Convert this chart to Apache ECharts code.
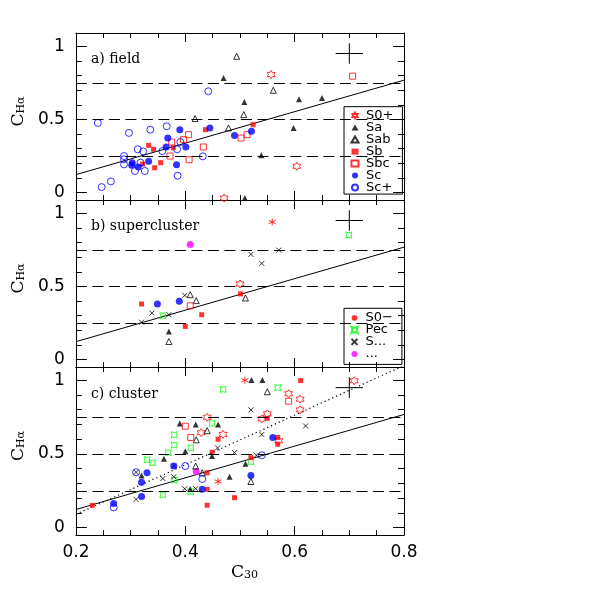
<!DOCTYPE html>
<html><head><meta charset="utf-8">
<script src="https://cdn.jsdelivr.net/npm/echarts@6/dist/echarts.min.js"></script>
<style>html,body{margin:0;padding:0;background:#fff}#c{width:599px;height:599px}</style>
</head><body><div id="c"></div>
<script>
// ---------- data ----------
const xRange = [0.2, 0.8];
const yRange = [-0.05, 1.09];
const yMajor = [0, 0.5, 1];
const yMinor = [0.1, 0.2, 0.3, 0.4, 0.6, 0.7, 0.8, 0.9];
const refLevels = [0.25, 0.5, 0.75];
const fitLine = [[0.2, 0.123], [0.8, 0.768]];
const clusterFit = [[0.2, 0.09], [0.8, 1.10]];
const errCross = [[0.70, 0.95, 0.025, 0.07]];
const panelLabels = ['a) field', 'b) supercluster', 'c) cluster'];
const legendA = ['S0+', 'Sa', 'Sab', 'Sb', 'Sbc', 'Sc', 'Sc+'];
const legendB = ['S0\u2212', 'Pec', 'S...', '...'];

// panel a: field
const fieldS0p = [[0.557,0.806],[0.604,0.180],[0.471,-0.037]];
const fieldSa = [[0.470,0.783],[0.508,0.619],[0.608,0.638],[0.650,0.646],[0.598,0.442],[0.539,0.255],[0.509,-0.037]];
const fieldSab = [[0.494,0.931],[0.561,0.699],[0.507,0.533],[0.418,0.506],[0.479,0.442]];
const fieldSb = [[0.333,0.323],[0.342,0.296],[0.344,0.170],[0.355,0.205],[0.378,0.307],[0.437,0.430],[0.524,0.464],[0.322,0.195]];
const fieldSbc = [[0.706,0.795],[0.406,0.396],[0.397,0.362],[0.375,0.346],[0.372,0.250],[0.407,0.225],[0.433,0.312],[0.502,0.373],[0.513,0.396]];
const fieldSc = [[0.390,0.430],[0.445,0.442],[0.368,0.373],[0.365,0.312],[0.401,0.312],[0.490,0.391],[0.521,0.419],[0.384,0.191],[0.333,0.214],[0.314,0.175],[0.303,0.205],[0.302,0.187]];
const fieldScp = [[0.240,0.476],[0.442,0.692],[0.297,0.408],[0.336,0.430],[0.366,0.453],[0.313,0.296],[0.323,0.282],[0.288,0.250],[0.288,0.228],[0.288,0.193],[0.308,0.148],[0.318,0.205],[0.326,0.148],[0.358,0.284],[0.385,0.296],[0.391,0.346],[0.432,0.248],[0.386,0.116],[0.264,0.077],[0.247,0.038]];

// panel b: supercluster
const supS0m = [[0.559,0.940]];
const supS0p = [[0.500,0.517]];
const supPec = [[0.699,0.851],[0.359,0.300]];
const supSx = [[0.571,0.748],[0.520,0.719],[0.540,0.657],[0.399,0.439],[0.339,0.318],[0.370,0.307],[0.320,0.256]];
const supDots = [[0.409,0.787]];
const supSa = [[0.370,0.192]];
const supSab = [[0.409,0.444],[0.420,0.403],[0.510,0.421],[0.370,0.124]];
const supSb = [[0.320,0.380],[0.501,0.449],[0.430,0.307],[0.400,0.227]];
const supSbc = [[0.409,0.368]];
const supSc = [[0.349,0.380],[0.389,0.398]];

// panel c: cluster
const cluS0p = [[0.440,0.749],[0.429,0.644],[0.469,0.633],[0.540,0.738],[0.550,0.772],[0.589,0.909],[0.610,0.872],[0.610,0.799],[0.571,0.589],[0.709,0.997]];
const cluS0m = [[0.509,1.000],[0.460,0.313]];
const cluSa = [[0.521,1.002],[0.541,1.002],[0.390,0.706],[0.419,0.699],[0.460,0.699],[0.400,0.518],[0.361,0.468],[0.320,0.354],[0.449,0.486],[0.481,0.345],[0.510,0.434],[0.409,0.262]];
const cluSab = [[0.550,0.922],[0.440,0.658],[0.420,0.596],[0.419,0.418],[0.431,0.372],[0.520,0.313]];
const cluSb = [[0.611,0.998],[0.550,0.742],[0.569,0.612],[0.569,0.566],[0.520,0.475],[0.460,0.600],[0.449,0.512],[0.440,0.372],[0.440,0.260],[0.440,0.152],[0.490,0.203],[0.230,0.151]];
const cluSbc = [[0.400,0.688],[0.410,0.612],[0.589,0.858]];
const cluSc = [[0.320,0.308],[0.330,0.372],[0.320,0.212],[0.269,0.163],[0.379,0.418],[0.431,0.261],[0.520,0.354],[0.560,0.612]];
const cluScp = [[0.269,0.137],[0.310,0.376],[0.400,0.418],[0.431,0.330],[0.540,0.491]];
const cluPec = [[0.469,0.938],[0.569,0.950],[0.449,0.708],[0.380,0.630],[0.380,0.560],[0.369,0.509],[0.410,0.541],[0.330,0.461],[0.340,0.440],[0.380,0.323],[0.359,0.223],[0.410,0.244],[0.520,0.447]];
const cluSx = [[0.520,0.799],[0.540,0.632],[0.620,0.690],[0.459,0.541],[0.490,0.509],[0.530,0.491],[0.379,0.418],[0.359,0.333],[0.379,0.345],[0.310,0.376],[0.310,0.192],[0.399,0.264],[0.419,0.264]];
const cluDots = [[0.420,0.381]];

// ---------- styles ----------
const RED = '#ff0000', BLUE = '#0000ff', GREEN = '#00ff00', MAG = '#ff00ff', BLK = '#000000';
const HEX = 'path://M10,0L12.887,5L18.66,5L15.774,10L18.66,15L12.887,15L10,20L7.113,15L1.34,15L4.226,10L1.34,5L7.113,5Z';
const PEC = 'path://M0,0Q10,5 20,0Q15,10 20,20Q10,15 0,20Q5,10 0,0Z';
const AST = 'path://M10,0L10,20M1.34,5L18.66,15M1.34,15L18.66,5';
const XS = 'path://M0,0L20,20M20,0L0,20';
function hollow(c){ return {color:'rgba(0,0,0,0)', borderColor:c, borderWidth:1}; }
function solid(c){ return {color:c, borderWidth:0}; }
const styles = {
  'S0+': {symbol:HEX, size:8, item:hollow(RED)},
  'Sa': {symbol:'triangle', size:6, item:solid(BLK)},
  'Sab': {symbol:'triangle', size:6, item:hollow(BLK)},
  'Sb': {symbol:'rect', size:5, item:solid(RED)},
  'Sbc': {symbol:'rect', size:6, item:hollow(RED)},
  'Sc': {symbol:'circle', size:7, item:solid(BLUE)},
  'Sc+': {symbol:'circle', size:7, item:hollow(BLUE)},
  'S0\u2212': {symbol:AST, size:7, item:hollow(RED)},
  'Pec': {symbol:PEC, size:6, item:hollow(GREEN)},
  'S...': {symbol:XS, size:5, item:hollow(BLK)},
  '...': {symbol:'circle', size:7, item:solid(MAG)}
};

const panels = [
  {top:33, height:167, sets:{'S0+':fieldS0p,'Sa':fieldSa,'Sab':fieldSab,'Sb':fieldSb,'Sbc':fieldSbc,'Sc':fieldSc,'Sc+':fieldScp}},
  {top:200, height:167, sets:{'S0\u2212':supS0m,'Pec':supPec,'S...':supSx,'...':supDots,'S0+':supS0p,'Sa':supSa,'Sab':supSab,'Sb':supSb,'Sbc':supSbc,'Sc':supSc}},
  {top:367, height:168, sets:{'S0\u2212':cluS0m,'Pec':cluPec,'S...':cluSx,'...':cluDots,'S0+':cluS0p,'Sa':cluSa,'Sab':cluSab,'Sb':cluSb,'Sbc':cluSbc,'Sc':cluSc,'Sc+':cluScp}}
];

const SANS = 'DejaVu Sans', SERIF = 'DejaVu Serif';
const grid = [], xAxis = [], yAxis = [], series = [], title = [];
const titleTops = [52, 219, 387];

panels.forEach((p, i) => {
  grid.push({left:74, width:330, top:p.top, height:p.height});
  title.push({text:panelLabels[i], left:91, top:titleTops[i], padding:0,
    textStyle:{fontFamily:SERIF, fontSize:14, fontWeight:'normal', color:'#000'}});
  ['bottom','top'].forEach(pos => {
    const showLab = (i === 2 && pos === 'bottom');
    xAxis.push({gridIndex:i, type:'value', position:pos, min:xRange[0], max:xRange[1], interval:0.2,
      axisLine:{onZero:false, lineStyle:{color:'#000', width:1}},
      axisTick:{inside:true, length:9, lineStyle:{color:'#000'}},
      minorTick:{show:true, splitNumber:4, length:5, lineStyle:{color:'#000'}},
      splitLine:{show:false}, minorSplitLine:{show:false},
      axisLabel:{show:showLab, margin:9, fontFamily:SANS, fontSize:17, color:'#000'},
      name: showLab ? '{c|C}{s|30}' : '', nameLocation:'middle', nameGap:29,
      nameTextStyle:{padding:[0,0,0,9], rich:{
        c:{fontFamily:SERIF, fontSize:17, color:'#000', lineHeight:17, verticalAlign:'top'},
        s:{fontFamily:SERIF, fontSize:11, color:'#000', lineHeight:11, verticalAlign:'bottom', padding:[8,0,0,0]}}}
    });
  });
  const yBase = {gridIndex:i, type:'value', min:yRange[0], max:yRange[1], splitLine:{show:false}};
  yAxis.push(Object.assign({}, yBase, {position:'left',
    axisLine:{show:true, onZero:false, lineStyle:{color:'#000', width:1}},
    axisTick:{show:true, inside:true, length:11, customValues:yMajor, lineStyle:{color:'#000'}},
    axisLabel:{show:true, customValues:yMajor, margin:11, fontFamily:SANS, fontSize:17, color:'#000'},
    name:'{c|C}{s|H\u03b1}', nameLocation:'middle', nameRotate:90, nameGap:46,
    nameTextStyle:{padding:[0,0,0,10], rich:{
      c:{fontFamily:SERIF, fontSize:17, color:'#000', lineHeight:17, verticalAlign:'top'},
      s:{fontFamily:SERIF, fontSize:11, color:'#000', lineHeight:11, verticalAlign:'bottom', padding:[8,0,0,0]}}}
  }));
  yAxis.push(Object.assign({}, yBase, {position:'right',
    axisLine:{show:true, onZero:false, lineStyle:{color:'#000', width:1}},
    axisTick:{show:true, inside:true, length:11, customValues:yMajor, lineStyle:{color:'#000'}},
    axisLabel:{show:false}}));
  ['left','right'].forEach(pos => {
    yAxis.push(Object.assign({}, yBase, {position:pos,
      axisLine:{show:false, onZero:false},
      axisTick:{show:true, inside:true, length:6, customValues:yMinor, lineStyle:{color:'#000'}},
      axisLabel:{show:false}}));
  });
  const xi = i * 2, yi = i * 4;
  series.push({type:'line', xAxisIndex:xi, yAxisIndex:yi, data:fitLine, showSymbol:false, silent:true,
    lineStyle:{color:'#000', width:1}, z:1, clip:true,
    markLine:{silent:true, symbol:['none','none'], label:{show:false}, animation:false,
      lineStyle:{color:'#000', type:[11,5.5], width:1},
      emphasis:{disabled:true}, data:refLevels.map(v => ({yAxis:v}))}});
  if (i === 2) {
    series.push({type:'line', xAxisIndex:xi, yAxisIndex:yi, data:clusterFit, showSymbol:false, silent:true,
      lineStyle:{color:'#000', width:1.2, type:[1.2,3]}, z:1, clip:true});
  }
  series.push({type:'custom', xAxisIndex:xi, yAxisIndex:yi, data:errCross, silent:true, z:2,
    renderItem:function(params, api){
      const x = api.value(0), y = api.value(1), dx = api.value(2), dy = api.value(3);
      const a = api.coord([x-dx, y]), b = api.coord([x+dx, y]);
      const c = api.coord([x, y-dy]), d = api.coord([x, y+dy]);
      return {type:'group', children:[
        {type:'line', shape:{x1:a[0], y1:a[1], x2:b[0], y2:b[1]}, style:{stroke:'#000', lineWidth:1}},
        {type:'line', shape:{x1:c[0], y1:c[1], x2:d[0], y2:d[1]}, style:{stroke:'#000', lineWidth:1}}
      ]};
    }});
  Object.keys(p.sets).forEach(name => {
    const s = styles[name];
    series.push({type:'scatter', name:name, xAxisIndex:xi, yAxisIndex:yi, data:p.sets[name],
      symbol:s.symbol, symbolSize:s.size, itemStyle:s.item, z:3, emphasis:{disabled:true}});
  });
});

const legendCommon = {orient:'vertical', left:344, itemWidth:7, itemHeight:6, itemGap:-1,
  borderColor:'#000', borderWidth:1, borderRadius:0, selectedMode:false,
  textStyle:{fontFamily:SANS, fontSize:13, lineHeight:11.8, color:'#000', padding:[0,0,0,2.5]}};

const option = {
  animation:false,
  backgroundColor:'#fff',
  title:title,
  legend:[
    Object.assign({}, legendCommon, {data:legendA, top:106.7, padding:[2.4, 9, 0, 6.5]}),
    Object.assign({}, legendCommon, {data:legendB, top:308.3, padding:[3.1, 9, 4, 6.5]})
  ],
  grid:grid, xAxis:xAxis, yAxis:yAxis, series:series
};
const chart = echarts.init(document.getElementById('c'), null, {renderer:'canvas'});
chart.setOption(option);
</script>
</body></html>
